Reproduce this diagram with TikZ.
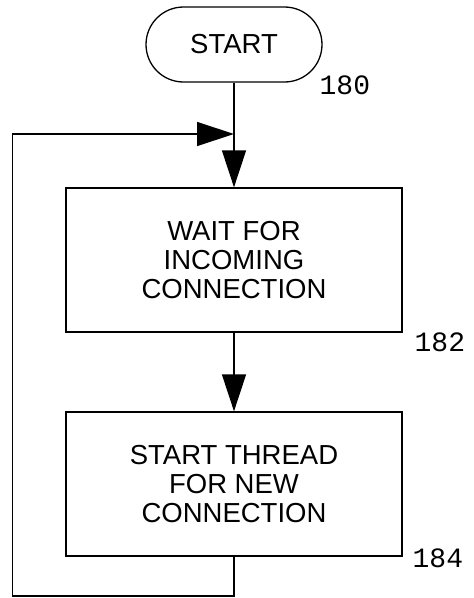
\documentclass[tikz,border=0pt]{standalone}
\usepackage{fontspec}
\setmainfont{Liberation Sans}
\newfontfamily\labelfont{Liberation Mono}
\usetikzlibrary{arrows.meta,shapes.misc}
\begin{document}
\begin{tikzpicture}[x=1pt,y=-1pt,
  line width=1.3pt,
  boxtext/.style={font=\fontsize{27.5}{29}\selectfont, align=center},
  terminal/.style={draw, rounded rectangle, minimum width=176pt, minimum height=75pt, inner sep=0pt, boxtext},
  procbox/.style={draw, rectangle, minimum width=336pt, minimum height=144pt, inner sep=0pt, boxtext},
  reflabel/.style={font=\labelfont\fontsize{28}{30}\selectfont, anchor=base west, inner sep=0pt},
  flow/.style={-{Triangle[length=37pt,width=24pt]}}
]
\useasboundingbox (0,0) rectangle (474,598);
\node[terminal] (start) at (234,44.5) {START};
\node[procbox] (b1) at (234,260) {WAIT FOR\\INCOMING\\CONNECTION};
\node[procbox] (b2) at (234,484) {START THREAD\\FOR NEW\\CONNECTION};
\node[reflabel] (l180) at (319,94) {180};
\node[reflabel] (l182) at (414,351) {182};
\node[reflabel] (l184) at (412,567) {184};
\coordinate (j) at (234,134);
\coordinate (bl) at (12.5,596);
\draw[flow] (start.south) -- (b1.north);
\draw[flow] (b1.south) -- (b2.north);
\draw[flow] (b2.south) |- (bl) |- (j);
\end{tikzpicture}
\end{document}
